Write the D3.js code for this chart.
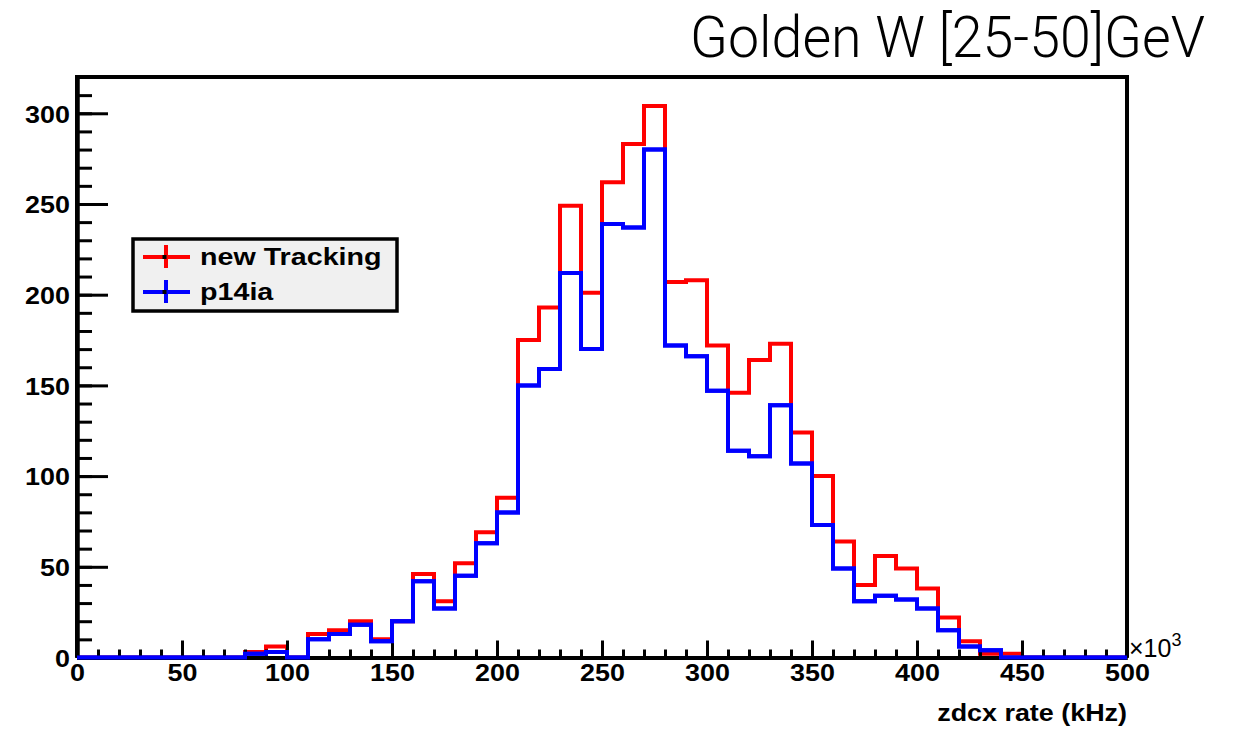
<!DOCTYPE html>
<html>
<head>
<meta charset="utf-8">
<script src="https://cdn.jsdelivr.net/npm/d3@7"></script>
<style>
  html, body { margin: 0; padding: 0; background: #fff; }
  svg { display: block; }
</style>
</head>
<body>
<svg id="chart" width="1236" height="729"></svg>
<script>
// ---- data ----
const binEdges = d3.range(0, 510, 10);           // x bin edges (x10^3 kHz)
const newTracking = [0,0,0,0,0,0,0,0,3,6, 0,13,15,20,10,20,46,31,52,69, 88,175,193,249,201,262,283,304,207,208, 172,146,164,173,124,100,64,40,56,49, 38,22,9,2,2,0,0,0,0,0];
const p14ia       = [0,0,0,0,0,0,0,0,2,3, 0,10,13,18,9,20,42,27,45,63, 80,150,159,212,170,239,237,280,172,166, 147,114,111,139,107,73,49,31,34,32, 27,15,6,4,0,0,0,0,0,0];
const seriesNames = ["new Tracking", "p14ia"];
const xMajorTicks = [0,50,100,150,200,250,300,350,400,450,500];
const yMajorTicks = [0,50,100,150,200,250,300];
const titleText = "Golden W [25-50]GeV";
const xTitle = "zdcx rate (kHz)";

// ---- layout ----
const L = 77, R = 1127, T = 77, B = 657.5;
const svg = d3.select("#chart");
const x = d3.scaleLinear().domain([0, 500]).range([L, R]);
const y = d3.scaleLinear().domain([0, 320]).range([B, T]);
const boldFont = "'Liberation Sans', Arial, Helvetica, sans-serif";
const STRETCH = 1.17;

// title
svg.append("text")
  .attr("x", 690).attr("y", 56.5)
  .attr("textLength", 515).attr("lengthAdjust", "spacingAndGlyphs")
  .style("font-family", "Roboto, 'Liberation Sans', sans-serif")
  .style("font-weight", 300)
  .style("font-size", "58px")
  .attr("fill", "#000")
  .text(titleText);

// histograms
function stepPoints(vals) {
  const pts = vals.map((v, i) => [binEdges[i], v]);
  pts.push([binEdges[vals.length], vals[vals.length - 1]]);
  return pts;
}
const line = d3.line().x(d => x(d[0])).y(d => y(d[1])).curve(d3.curveStepAfter);
const colors = ["#ff0000", "#0000ff"];
[newTracking, p14ia].forEach((vals, k) => {
  svg.append("path")
    .datum(stepPoints(vals))
    .attr("d", line)
    .attr("fill", "none")
    .attr("stroke", colors[k])
    .attr("stroke-width", 4)
    .attr("stroke-linejoin", "miter");
});

// frame (top and right)
svg.append("path")
  .attr("d", `M${L},${B} L${L},${T} L${R},${T} L${R},${B}`)
  .attr("fill", "none").attr("stroke", "#000").attr("stroke-width", 4);

// y axis minor
const yMinor = svg.append("g").attr("transform", `translate(${L},0)`)
  .call(d3.axisLeft(y).tickValues(d3.range(0, 321, 10)).tickSizeInner(-15).tickSizeOuter(0).tickFormat(""));
// y axis major
const yAxis = svg.append("g").attr("transform", `translate(${L},0)`)
  .call(d3.axisLeft(y).tickValues(yMajorTicks).tickSizeInner(-31).tickSizeOuter(0).tickPadding(6).tickFormat(d3.format("d")));
// x axis minor
const xMinor = svg.append("g").attr("transform", `translate(0,${B})`)
  .call(d3.axisBottom(x).tickValues(d3.range(0, 501, 10)).tickSizeInner(-8).tickSizeOuter(0).tickFormat(""));
// x axis major
const xAxis = svg.append("g").attr("transform", `translate(0,${B})`)
  .call(d3.axisBottom(x).tickValues(xMajorTicks).tickSizeInner(-17).tickSizeOuter(0).tickPadding(8).tickFormat(d3.format("d")));

[yMinor, yAxis, xMinor, xAxis].forEach(g => {
  g.select(".domain").attr("stroke", "#000").attr("stroke-width", 4);
  g.selectAll(".tick line").attr("stroke", "#000").attr("stroke-width", 3);
  g.selectAll("text")
    .style("font-family", boldFont)
    .style("font-weight", "bold")
    .style("font-size", "23px")
    .attr("fill", "#000")
    .attr("transform", `scale(${STRETCH},1)`);
});
yAxis.selectAll("text").attr("dy", "0.38em");
xAxis.selectAll("text").attr("dy", "0.72em").attr("y", 7);

// draw blue over the axis at zero (histogram on top of axis line)
svg.append("path")
  .datum(stepPoints(p14ia))
  .attr("d", line)
  .attr("fill", "none")
  .attr("stroke", colors[1])
  .attr("stroke-width", 4);

// x10^3
const mult = svg.append("text")
  .attr("x", 1129).attr("y", 657)
  .style("font-family", "'Liberation Sans', Arial, sans-serif")
  .style("font-size", "25px")
  .attr("fill", "#000");
mult.append("tspan").text("\u00d710");
mult.append("tspan").attr("dy", -11).style("font-size", "18px").text("3");

// x axis title
svg.append("g").attr("transform", `translate(${R},721) scale(${STRETCH},1)`)
  .append("text")
  .attr("text-anchor", "end")
  .style("font-family", boldFont)
  .style("font-weight", "bold")
  .style("font-size", "23px")
  .attr("fill", "#000")
  .text(xTitle);

// legend
const leg = svg.append("g");
leg.append("rect")
  .attr("x", 133).attr("y", 239).attr("width", 264).attr("height", 72)
  .attr("fill", "#f0f0f0").attr("stroke", "#000").attr("stroke-width", 3.5);
const rows = [257, 292];
seriesNames.forEach((name, k) => {
  const cy = rows[k];
  const g = leg.append("g");
  g.append("line").attr("x1", 143).attr("x2", 190).attr("y1", cy).attr("y2", cy)
    .attr("stroke", colors[k]).attr("stroke-width", 4);
  g.append("line").attr("x1", 166).attr("x2", 166).attr("y1", cy - 12).attr("y2", cy + 11)
    .attr("stroke", colors[k]).attr("stroke-width", 4);
  g.append("rect").attr("x", 162.5).attr("y", cy - 2).attr("width", 4).attr("height", 4).attr("fill", "#000");
  leg.append("g").attr("transform", `translate(200,${cy + 8}) scale(${STRETCH},1)`)
    .append("text")
    .style("font-family", boldFont)
    .style("font-weight", "bold")
    .style("font-size", "24.5px")
    .attr("fill", "#000")
    .text(name);
});
</script>
</body>
</html>
